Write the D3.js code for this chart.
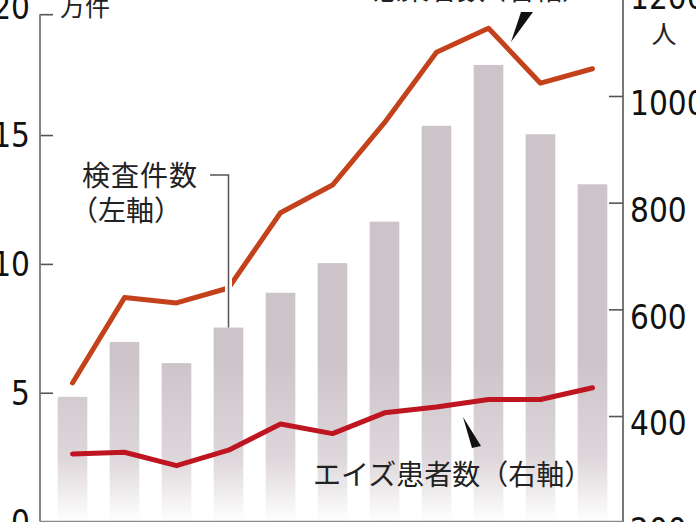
<!DOCTYPE html>
<html><head><meta charset="utf-8">
<script src="https://cdn.jsdelivr.net/npm/d3@7"></script>
<style>body{margin:0;background:#fff;} svg{display:block}</style>
</head><body><svg id="c" width="696" height="522"></svg>
<script>
const years = [2000,2001,2002,2003,2004,2005,2006,2007,2008,2009,2010];
const tests = [4.84, 6.97, 6.15, 7.53, 8.88, 10.03, 11.64, 15.36, 17.72, 15.03, 13.09]; // 万件 (left)
const hiv = [462, 622, 612, 640, 781, 833, 950, 1082, 1127, 1024, 1051];               // 人 (right)
const aids = [329, 332, 307, 336, 385, 367, 406, 417, 431, 431, 453];                  // 人 (right)
const leftTicks = [0, 5, 10, 15, 20];
const rightTicks = [200, 400, 600, 800, 1000, 1200];
const leftUnit = "万件", rightUnit = "人";
const testsLabel = ["検査件数", "（左軸）"];
const hivLabel = ["HIV感染者数", "（右軸）"];
const aidsLabel = ["エイズ患者数", "（右軸）"];

const svg = d3.select("#c");
const W = 696, H = 522;
const numFont = "'Liberation Sans Narrow','DejaVu Sans Condensed',sans-serif";
const jpFont = "'Noto Sans CJK JP',sans-serif";

const x = d3.scaleBand().domain(years).range([46.5, 618.5]).paddingInner(0.43).paddingOuter(0.215);
const yL = d3.scaleLinear().domain([0, 20]).range([521.6, 6.2]);
const yR = d3.scaleLinear().domain([200, 1200]).range([522.7, -10.7]);

const defs = svg.append("defs");
const grad = defs.append("linearGradient").attr("id","bg").attr("gradientUnits","userSpaceOnUse")
  .attr("x1",0).attr("x2",0).attr("y1",360).attr("y2",522);
grad.append("stop").attr("offset","0").attr("stop-color","#ccc4c9");
grad.append("stop").attr("offset","0.6").attr("stop-color","#ddd6da");
grad.append("stop").attr("offset","1").attr("stop-color","#ffffff");

// bars
svg.append("g").selectAll("rect").data(tests).join("rect")
  .attr("x", (d,i) => x(years[i]))
  .attr("width", x.bandwidth())
  .attr("y", d => yL(d))
  .attr("height", d => yL(0) - yL(d))
  .attr("fill", "url(#bg)");

// axes
const axL = d3.axisLeft(yL).tickValues(leftTicks).tickFormat(d3.format("d"))
  .tickSizeInner(-13).tickSizeOuter(0).tickPadding(10);
const gL = svg.append("g").attr("transform","translate(40,0)").call(axL);
gL.select(".domain").remove();
gL.selectAll(".tick line").attr("stroke","#555").attr("stroke-width",1.6);
gL.selectAll(".tick").filter(d => d === 20).select("line").attr("transform","translate(0,8)");
gL.selectAll(".tick text").attr("font-family",numFont).attr("font-size",33).attr("fill","#111").attr("dy","0.36em");

const axR = d3.axisRight(yR).tickValues(rightTicks).tickFormat(d3.format("d"))
  .tickSizeInner(-14).tickSizeOuter(0).tickPadding(7);
const gR = svg.append("g").attr("transform","translate(623,0)").call(axR);
gR.select(".domain").remove();
gR.selectAll(".tick line").attr("stroke","#555").attr("stroke-width",1.6);
gR.selectAll(".tick text").attr("font-family",numFont).attr("font-size",33).attr("fill","#111").attr("dy","0.57em");

svg.append("line").attr("x1",40).attr("x2",40).attr("y1",yL(20)+8).attr("y2",yL(0)).attr("stroke","#777").attr("stroke-width",1.8);
svg.append("line").attr("x1",623).attr("x2",623).attr("y1",0).attr("y2",H).attr("stroke","#555").attr("stroke-width",1.6);
svg.append("line").attr("x1",40).attr("x2",623).attr("y1",yL(0)).attr("y2",yL(0)).attr("stroke","#888").attr("stroke-width",1.5);

// lines
const lineR = d3.line().x((d,i) => x(years[i]) + x.bandwidth()/2).y(d => yR(d));
svg.append("path").datum(hiv).attr("d", lineR).attr("fill","none")
  .attr("stroke","#c3411b").attr("stroke-width",5).attr("stroke-linejoin","round").attr("stroke-linecap","round");
svg.append("path").datum(aids).attr("d", lineR).attr("fill","none")
  .attr("stroke","#bf1520").attr("stroke-width",5).attr("stroke-linejoin","round").attr("stroke-linecap","round");

// leader for tests label
const bx = x(years[3]) + x.bandwidth()/2;
svg.append("line").attr("x1",bx).attr("x2",bx).attr("y1",200).attr("y2",yL(tests[3])-4)
  .attr("stroke","#fff").attr("stroke-width",7);
svg.append("path").attr("d",`M210,175H${bx}V${yL(tests[3])}`).attr("fill","none")
  .attr("stroke","#555").attr("stroke-width",1.5);

// wedges
svg.append("path").attr("d","M511,42L521,12L533,12Z").attr("fill","#111");
svg.append("path").attr("d","M463,417L472,448L481,446Z").attr("fill","#111");

// texts
const t = svg.append("g").attr("font-family",jpFont).attr("fill","#222");
t.append("text").attr("x",60).attr("y",16).attr("font-size",25).text(leftUnit);
t.append("text").attr("x",664).attr("y",43).attr("font-size",25).attr("text-anchor","middle").text(rightUnit);
t.append("text").attr("x",82).attr("y",186).attr("font-size",28).attr("letter-spacing",1).text(testsLabel[0]);
t.append("text").attr("x",70).attr("y",221).attr("font-size",28).text(testsLabel[1]);

function parenLabel(x0, y0, size, main, paren, gap, anchorEnd) {
  const tx = t.append("text").attr("x", x0).attr("y", y0).attr("font-size", size);
  tx.append("tspan").text(main);
  tx.append("tspan").attr("dx", gap).text(paren);
  if (anchorEnd) tx.attr("text-anchor","end");
  return tx;
}
parenLabel(590, 0, 28, hivLabel[0], hivLabel[1], -7, true);
parenLabel(313, 485, 28, aidsLabel[0], aidsLabel[1], 0, false);
</script></body></html>
